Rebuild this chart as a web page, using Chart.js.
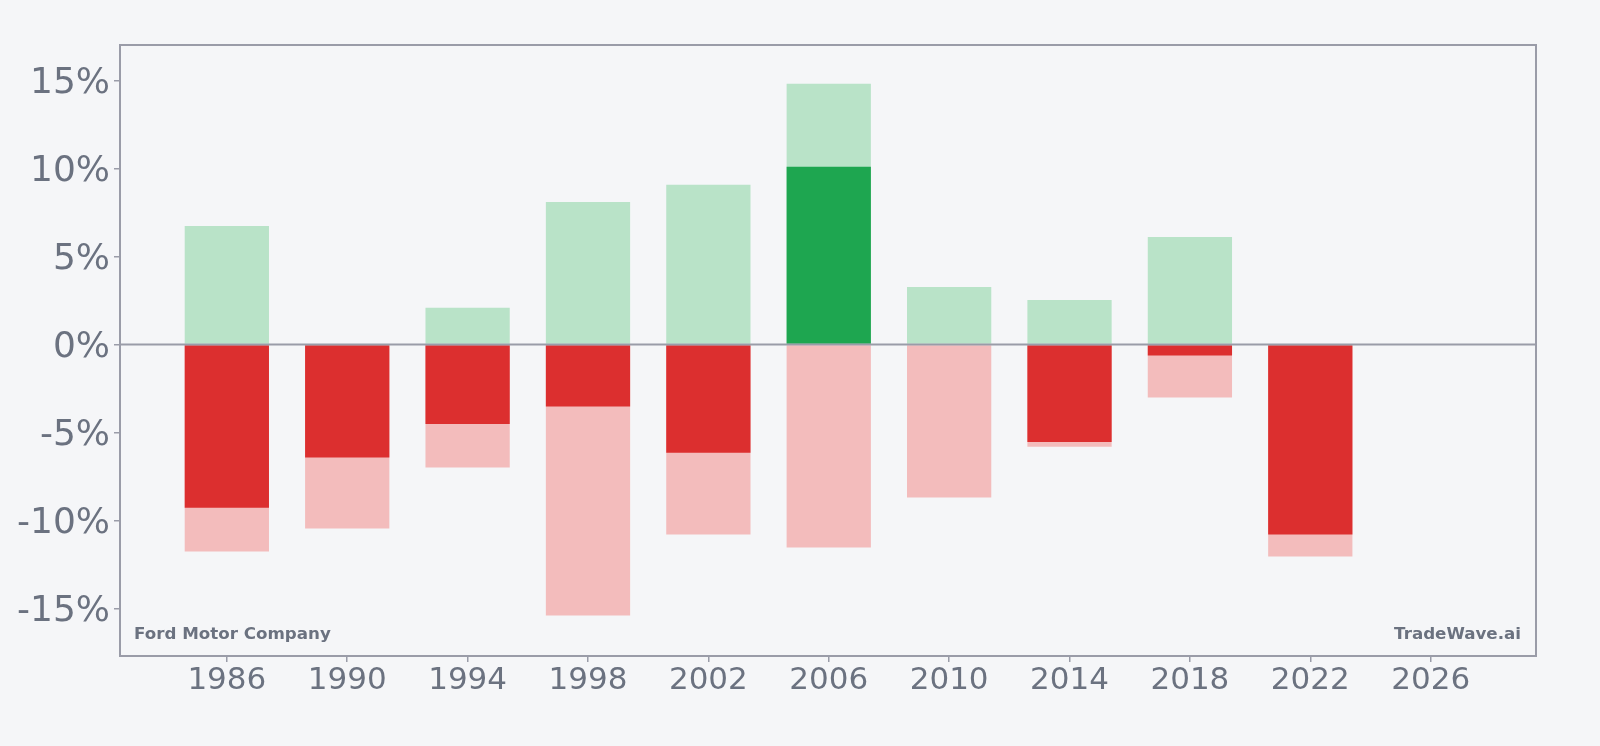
<!DOCTYPE html>
<html>
<head>
<meta charset="utf-8">
<script src="https://cdn.jsdelivr.net/npm/chart.js@4"></script>
<style>
  html, body { margin: 0; padding: 0; background: #f5f6f8; }
  #wrap { width: 1600px; height: 746px; }
</style>
</head>
<body>
<div id="wrap"><canvas id="chart" width="1600" height="746"></canvas></div>
<script>
const years = [1986, 1990, 1994, 1998, 2002, 2006, 2010, 2014, 2018, 2022];
const bestGain = [6.74, 0, 2.10, 8.11, 9.09, 14.83, 3.28, 2.54, 6.12, 0];
const worstDrop = [-11.76, -10.45, -6.99, -15.40, -10.80, -11.53, -8.69, -5.80, -3.01, -12.05];
const yearReturn = [-9.28, -6.42, -4.51, -3.52, -6.14, 10.11, null, -5.53, -0.62, -10.80];
const xTicks = [1986, 1990, 1994, 1998, 2002, 2006, 2010, 2014, 2018, 2022, 2026];
const yTicks = [-15, -10, -5, 0, 5, 10, 15];

const textColor = '#6b7280';
const lineColor = '#9a9ca8';

// frame, zero line and the two corner labels
const decor = {
    id: 'decor',
    afterDatasetsDraw(chart) {
        const ctx = chart.ctx;
        const a = chart.chartArea;
        const y0 = chart.scales.y.getPixelForValue(0);
        ctx.save();
        ctx.strokeStyle = lineColor;
        ctx.lineWidth = 2;
        ctx.beginPath();
        ctx.moveTo(a.left, y0);
        ctx.lineTo(a.right, y0);
        ctx.stroke();
        ctx.strokeRect(a.left, a.top, a.right - a.left, a.bottom - a.top);
        ctx.fillStyle = textColor;
        ctx.font = 'bold 16.7px "DejaVu Sans"';
        ctx.textBaseline = 'alphabetic';
        ctx.textAlign = 'left';
        ctx.fillText('Ford Motor Company', a.left + 14, a.bottom - 17);
        ctx.textAlign = 'right';
        ctx.fillText('TradeWave.ai', a.right - 15, a.bottom - 17);
        ctx.restore();
    }
};

new Chart(document.getElementById('chart'), {
    type: 'bar',
    data: {
        datasets: [
            {
                label: 'Return',
                data: years.map((x, i) => ({ x: x, y: yearReturn[i] === null ? null : [0, yearReturn[i]] })),
                backgroundColor: yearReturn.map(v => v > 0 ? '#1ea650' : '#dc2f2f'),
                order: 0
            },
            {
                label: 'Best',
                data: years.map((x, i) => ({ x: x, y: [0, bestGain[i]] })),
                backgroundColor: '#b9e3c8',
                order: 1
            },
            {
                label: 'Worst',
                data: years.map((x, i) => ({ x: x, y: [worstDrop[i], 0] })),
                backgroundColor: '#f3bcbc',
                order: 1
            }
        ]
    },
    options: {
        responsive: false,
        animation: false,
        grouped: false,
        barPercentage: 0.7,
        categoryPercentage: 1.0,
        borderWidth: 0,
        layout: { padding: { top: 45, right: 64, left: 0, bottom: 0 } },
        plugins: { legend: { display: false }, tooltip: { enabled: false } },
        scales: {
            x: {
                type: 'linear',
                offset: false,
                min: 1982.45,
                max: 2029.5,
                afterBuildTicks: s => { s.ticks = xTicks.map(v => ({ value: v })); },
                afterFit: s => { s.height = 90; },
                border: { display: false },
                grid: { offset: false, drawOnChartArea: false, drawTicks: true, tickLength: 6, color: lineColor, lineWidth: 1.5 },
                ticks: {
                    autoSkip: false, maxRotation: 0, padding: 0,
                    color: textColor,
                    font: { family: 'DejaVu Sans', size: 31 },
                    callback: v => String(v)
                }
            },
            y: {
                min: -17.7,
                max: 17.03,
                afterBuildTicks: s => { s.ticks = yTicks.map(v => ({ value: v })); },
                afterFit: s => { s.width = 120; },
                border: { display: false },
                grid: { drawOnChartArea: false, drawTicks: true, tickLength: 6, color: lineColor, lineWidth: 1.5 },
                ticks: {
                    padding: 4,
                    labelOffset: 3,
                    color: textColor,
                    font: { family: 'DejaVu Sans', size: 36 },
                    callback: v => v + '%'
                }
            }
        }
    },
    plugins: [decor]
});
</script>
</body>
</html>
